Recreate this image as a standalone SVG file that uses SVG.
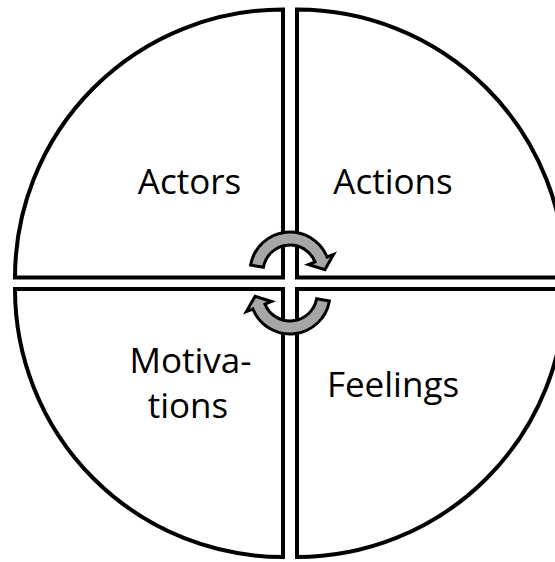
<svg xmlns="http://www.w3.org/2000/svg" width="555" height="562" viewBox="0 0 555 562">
<style>
.q{fill:#ffffff;stroke:#000000;stroke-width:4;stroke-linejoin:miter}
.t{font-family:"Open Sans","Liberation Sans",sans-serif;font-size:35px;fill:#000000;text-anchor:middle}
.arr{fill:#a6a6a6;stroke:#000000;stroke-width:3;stroke-linejoin:miter}
</style>
<rect width="555" height="562" fill="#ffffff"/>
<g id="actors">
<path class="q" d="M283 277.5 L15 277.5 A268 268 0 0 1 283 9.5 Z"/>
<text class="t" x="189.5" y="194">Actors</text>
</g>
<g id="actions">
<path class="q" d="M297 277.5 L297 9.5 A268 268 0 0 1 565 277.5 Z"/>
<text class="t" x="393" y="194">Actions</text>
</g>
<g id="motivations">
<path class="q" d="M283 289 L283 557 A268 268 0 0 1 15 289 Z"/>
<text class="t" x="190.5" y="373">Motiva-</text>
<text class="t" x="188" y="418">tions</text>
</g>
<g id="feelings">
<path class="q" d="M297 289 L565 289 A268 268 0 0 1 297 557 Z"/>
<text class="t" x="393" y="397">Feelings</text>
</g>
<g id="connectors">
<path id="arrow-top" class="arr" d="M250.6 265.1 A40 40 0 0 1 327.1 257 L333.6 254.4 L324.9 269.6 L308.5 264.5 L315 261.9 A27 27 0 0 0 263.4 267.3 Z"/>
<path id="arrow-bottom" class="arr" transform="rotate(180 290 283)" d="M250.6 265.1 A40 40 0 0 1 327.1 257 L333.6 254.4 L324.9 269.6 L308.5 264.5 L315 261.9 A27 27 0 0 0 263.4 267.3 Z"/>
</g>
</svg>
